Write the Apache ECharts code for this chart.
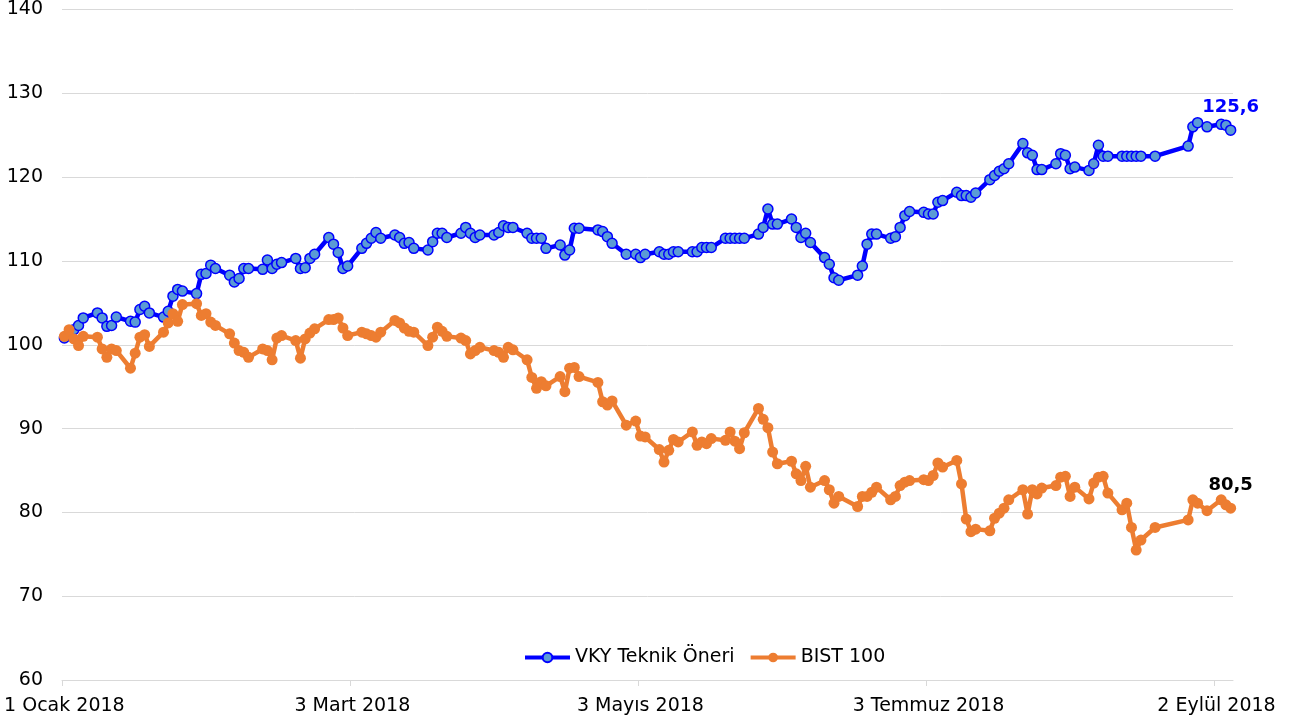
<!DOCTYPE html>
<html>
<head>
<meta charset="utf-8">
<script src="https://cdn.jsdelivr.net/npm/echarts@6/dist/echarts.min.js"></script>
<style>
html,body{margin:0;padding:0;background:#fff;}
#chart{width:1293px;height:727px;}
</style>
</head>
<body>
<div id="chart"></div>
<script>
// Trading dates (2018)
const dates = [
'2018-01-01','2018-01-02','2018-01-03','2018-01-04','2018-01-05','2018-01-08','2018-01-09','2018-01-10','2018-01-11','2018-01-12','2018-01-15','2018-01-16','2018-01-17','2018-01-18','2018-01-19','2018-01-22','2018-01-23','2018-01-24','2018-01-25','2018-01-26','2018-01-29','2018-01-30','2018-01-31',
'2018-02-01','2018-02-02','2018-02-05','2018-02-06','2018-02-07','2018-02-08','2018-02-09','2018-02-12','2018-02-13','2018-02-14','2018-02-15','2018-02-16','2018-02-19','2018-02-20','2018-02-21','2018-02-22','2018-02-23','2018-02-26','2018-02-27','2018-02-28',
'2018-03-01','2018-03-02','2018-03-05','2018-03-06','2018-03-07','2018-03-08','2018-03-09','2018-03-12','2018-03-13','2018-03-14','2018-03-15','2018-03-16','2018-03-19','2018-03-20','2018-03-21','2018-03-22','2018-03-23','2018-03-26','2018-03-27','2018-03-28','2018-03-29','2018-03-30',
'2018-04-02','2018-04-03','2018-04-04','2018-04-05','2018-04-06','2018-04-09','2018-04-10','2018-04-11','2018-04-12','2018-04-13','2018-04-16','2018-04-17','2018-04-18','2018-04-19','2018-04-20','2018-04-24','2018-04-25','2018-04-26','2018-04-27','2018-04-30',
'2018-05-02','2018-05-03','2018-05-04','2018-05-07','2018-05-08','2018-05-09','2018-05-10','2018-05-11','2018-05-14','2018-05-15','2018-05-16','2018-05-17','2018-05-18','2018-05-21','2018-05-22','2018-05-23','2018-05-24','2018-05-25','2018-05-28','2018-05-29','2018-05-30','2018-05-31',
'2018-06-01','2018-06-04','2018-06-05','2018-06-06','2018-06-07','2018-06-08','2018-06-11','2018-06-12','2018-06-13','2018-06-14','2018-06-18','2018-06-19','2018-06-20','2018-06-21','2018-06-22','2018-06-25','2018-06-26','2018-06-27','2018-06-28','2018-06-29',
'2018-07-02','2018-07-03','2018-07-04','2018-07-05','2018-07-06','2018-07-09','2018-07-10','2018-07-11','2018-07-12','2018-07-13','2018-07-16','2018-07-17','2018-07-18','2018-07-19','2018-07-20','2018-07-23','2018-07-24','2018-07-25','2018-07-26','2018-07-27','2018-07-30','2018-07-31',
'2018-08-01','2018-08-02','2018-08-03','2018-08-06','2018-08-07','2018-08-08','2018-08-09','2018-08-10','2018-08-13','2018-08-14','2018-08-15','2018-08-16','2018-08-17','2018-08-20','2018-08-27','2018-08-28','2018-08-29','2018-08-31',
'2018-09-03','2018-09-04','2018-09-05'
];

const vkyName = 'VKY Teknik Öneri';
const vkyValues = [
100.8,101.2,101.8,102.3,103.2, 103.8,103.2,102.2,102.3,103.3, 102.8,102.7,104.2,104.6,103.8, 103.3,104.0,105.8,106.6,106.4, 106.1,108.4,108.5,
109.5,109.1, 108.3,107.5,107.9,109.1,109.1, 109.0,110.1,109.1,109.6,109.8, 110.3,109.1,109.2,110.3,110.8, 112.8,112.0,111.0,
109.1,109.4, 111.5,112.1,112.7,113.4,112.7, 113.1,112.8,112.1,112.2,111.5, 111.3,112.3,113.3,113.3,112.8, 113.3,114.0,113.3,112.8,113.1,
113.1,113.4,114.2,114.0,114.0, 113.3,112.7,112.7,112.7,111.5, 111.9,110.7,111.3,113.9,113.9, 113.7,113.5,112.9,112.1, 110.8,
110.8,110.4,110.8, 111.1,110.8,110.8,111.1,111.1, 111.1,111.1,111.6,111.6,111.6, 112.7,112.7,112.7,112.7,112.7, 113.2,114.0,116.2,114.4,
114.4, 115.0,114.0,112.8,113.3,112.2, 110.4,109.6,108.0,107.7, 108.3,109.4,112.0,113.2,113.2, 112.7,112.9,114.0,115.4,115.9,
115.8,115.6,115.6,117.0,117.2, 118.2,117.8,117.8,117.6,118.1, 119.7,120.2,120.7,121.0,121.6, 124.0,122.9,122.6,120.9,120.9, 121.6,122.8,
122.6,121.0,121.2, 120.8,121.6,123.8,122.5,122.5, 122.5,122.5,122.5,122.5,122.5, 122.5, 123.7,126.0,126.5,126.0,
126.3,126.2,125.6
];

const bistName = 'BIST 100';
const bistValues = [
101.0,101.8,100.7,99.9,101.0, 100.9,99.5,98.5,99.5,99.3, 97.2,99.0,100.9,101.2,99.8, 101.5,102.6,103.7,102.8,104.8, 104.9,103.5,103.7,
102.7,102.3, 101.3,100.2,99.3,99.1,98.5, 99.5,99.3,98.2,100.8,101.1, 100.5,98.4,100.7,101.4,101.9, 103.0,103.0,103.2,
102.0,101.1, 101.5,101.3,101.1,100.9,101.5, 102.9,102.6,102.0,101.6,101.5, 99.9,100.9,102.1,101.6,101.0, 100.8,100.5,98.9,99.3,99.7,
99.3,99.1,98.5,99.7,99.4, 98.2,96.1,94.8,95.6,95.1, 96.2,94.4,97.2,97.3,96.2, 95.5,93.2,92.8,93.3, 90.4,
90.9,89.1,89.0, 87.5,86.0,87.4,88.7,88.4, 89.6,88.0,88.4,88.2,88.8, 88.6,89.6,88.5,87.6,89.5, 92.4,91.1,90.1,87.2,
85.8, 86.1,84.6,83.8,85.5,83.0, 83.8,82.7,81.1,81.9, 80.7,81.9,81.9,82.4,83.0, 81.5,81.9,83.2,83.6,83.8,
83.9,83.8,84.4,85.9,85.4, 86.2,83.4,79.2,77.7,78.0, 77.8,79.3,79.9,80.5,81.5, 82.7,79.8,82.7,82.2,82.9, 83.2,84.2,
84.3,81.9,83.0, 81.6,83.5,84.2,84.3,82.3, 80.3,81.1,78.2,75.5,76.7, 78.2, 79.1,81.5,81.1,80.2,
81.5,80.9,80.5
];

const tickDates = ['2018-01-01','2018-03-03','2018-05-03','2018-07-03','2018-09-02'];
const monthNames = ['Ocak','Şubat','Mart','Nisan','Mayıs','Haziran','Temmuz','Ağustos','Eylül','Ekim','Kasım','Aralık'];
const yTicks = {min: 60, max: 140, step: 10};

const FONT = 'DejaVu Sans';
const DAY = 86400000;
function utc(s) { const p = s.split('-').map(Number); return Date.UTC(p[0], p[1] - 1, p[2]); }
const t0 = utc(dates[0]);
function dayOf(s) { return Math.round((utc(s) - t0) / DAY); }
function fmtDay(v) {
  const d = new Date(t0 + Math.round(v) * DAY);
  return d.getUTCDate() + ' ' + monthNames[d.getUTCMonth()] + ' ' + d.getUTCFullYear();
}
// Date axis: each day occupies one slot, the date sits in the middle of its slot,
// tick marks sit on slot boundaries (like a spreadsheet date axis).
const tickDays = tickDates.map(dayOf);
const tickBounds = tickDays.map(d => d - 0.5);
const xMin = dayOf(dates[0]) - 0.5;
const xMax = dayOf(dates[dates.length - 1]) + 0.5;

const chart = echarts.init(document.getElementById('chart'), null, {renderer: 'canvas'});

function lastLabel(color) {
  return {
    show: true,
    position: 'top',
    distance: 8,
    fontFamily: FONT,
    fontSize: 18,
    fontWeight: 'bold',
    color: color,
    formatter: function (p) {
      return p.dataIndex === dates.length - 1 ? p.value[1].toFixed(1).replace('.', ',') : '';
    }
  };
}

chart.setOption({
  animation: false,
  backgroundColor: '#ffffff',
  grid: {left: 62, right: 60, top: 9, bottom: 47, containLabel: false},
  legend: {
    left: 523,
    top: 648,
    padding: 0,
    itemWidth: 45,
    itemHeight: 12,
    itemGap: 14,
    lineStyle: {width: 4},
    textStyle: {fontFamily: FONT, fontSize: 19, color: '#000'},
    data: [vkyName, bistName]
  },
  xAxis: {
    type: 'value',
    min: xMin,
    max: xMax,
    splitLine: {show: false},
    axisLine: {show: true, lineStyle: {color: '#d9d9d9', width: 1}},
    axisTick: {show: true, length: 6, lineStyle: {color: '#d9d9d9'}, customValues: tickBounds},
    axisLabel: {
      customValues: tickDays,
      margin: 17,
      fontFamily: FONT,
      fontSize: 19,
      color: '#000',
      formatter: fmtDay
    }
  },
  yAxis: {
    type: 'value',
    min: yTicks.min,
    max: yTicks.max,
    interval: yTicks.step,
    axisLine: {show: false},
    axisTick: {show: false},
    splitLine: {show: true, lineStyle: {color: '#d9d9d9', width: 1}},
    axisLabel: {margin: 19, fontFamily: FONT, fontSize: 19, color: '#000'}
  },
  series: [
    {
      name: vkyName,
      type: 'line',
      data: dates.map((d, i) => [dayOf(d), vkyValues[i]]),
      symbol: 'circle',
      symbolSize: 10,
      showAllSymbol: true,
      lineStyle: {color: '#0000ff', width: 4.5},
      itemStyle: {color: '#5b9bd5', borderColor: '#0000ff', borderWidth: 1.5},
      label: lastLabel('#0000ff'),
      labelLayout: {hideOverlap: false},
      z: 2
    },
    {
      name: bistName,
      type: 'line',
      data: dates.map((d, i) => [dayOf(d), bistValues[i]]),
      symbol: 'circle',
      symbolSize: 11,
      showAllSymbol: true,
      lineStyle: {color: '#ed7d31', width: 4.5},
      itemStyle: {color: '#ed7d31', borderColor: '#ed7d31', borderWidth: 0},
      label: lastLabel('#000000'),
      labelLayout: {hideOverlap: false},
      z: 3
    }
  ]
});
</script>
</body>
</html>
